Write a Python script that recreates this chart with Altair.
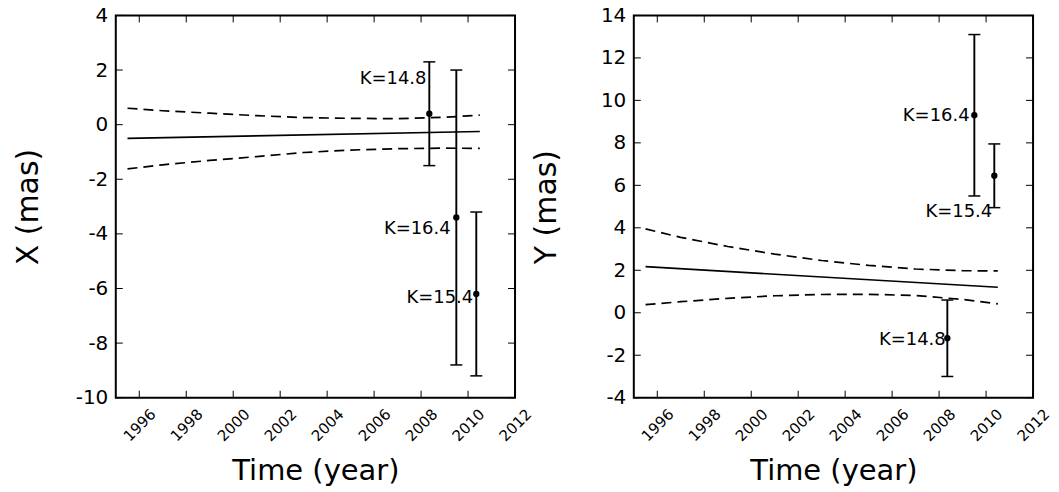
import altair as alt
import pandas as pd

# ---- data -------------------------------------------------------------
# epochs of the three K-band detections
epochs = [2008.35, 2009.5, 2010.35]
k_labels = ["K=14.8", "K=16.4", "K=15.4"]

# X offsets (mas) with 1-sigma errors
x_val = [0.4, -3.4, -6.2]
x_err = [1.9, 5.4, 3.0]
# Y offsets (mas) with 1-sigma errors
y_val = [-1.2, 9.3, 6.45]
y_err = [1.8, 3.8, 1.5]

# where each K label sits (right edge, data units), same order as k_labels
x_lab_year = [2008.23, 2009.26, 2010.22]
x_lab_val = [1.69, -3.82, -6.35]
y_lab_year = [2008.28, 2009.30, 2010.26]
y_lab_val = [-1.3, 9.25, 4.73]

# fitted linear motion and its confidence envelope
line_years = [1995.5, 2010.5]
x_fit = [-0.50, -0.25]
y_fit = [2.17, 1.20]

band_years = [1995.5, 1997, 1999, 2001, 2003, 2005, 2007, 2009, 2010.5]
x_upper = [0.60, 0.51, 0.42, 0.33, 0.26, 0.23, 0.22, 0.27, 0.35]
x_lower = [-1.62, -1.47, -1.31, -1.17, -1.02, -0.93, -0.88, -0.86, -0.87]
y_upper = [3.95, 3.55, 3.12, 2.76, 2.46, 2.23, 2.06, 1.98, 1.97]
y_lower = [0.38, 0.52, 0.68, 0.80, 0.86, 0.87, 0.81, 0.63, 0.42]

# axis ticks
year_ticks = [1996, 1998, 2000, 2002, 2004, 2006, 2008, 2010, 2012]
x_ticks = [-10, -8, -6, -4, -2, 0, 2, 4]
y_ticks = [-4, -2, 0, 2, 4, 6, 8, 10, 12, 14]

# ---- styling ----------------------------------------------------------
W, H = 400, 383
TICK = 7
FONT = "DejaVu Sans"
INK = "black"

x_axis = alt.Axis(
    values=year_ticks, title="Time (year)", labelExpr="toString(datum.value)",
    labelAngle=315, labelAlign="center", labelBaseline="middle",
    labelPadding=27, labelFontSize=15, labelFlush=False, labelOverlap=False,
    titleFontSize=29, titleFontWeight="normal", titleY=82,
    titleBaseline="alphabetic", ticks=False, tickSize=0, domain=False,
    grid=False, labelFont=FONT, titleFont=FONT, labelColor=INK, titleColor=INK,
)


def y_axis(title, ticks):
    return alt.Axis(
        values=ticks, title=title, labelExpr="toString(datum.value)",
        labelPadding=8, labelFontSize=20, labelFlush=False, labelOverlap=False,
        titleFontSize=30, titleFontWeight="normal", titleX=-78,
        titleBaseline="alphabetic", ticks=False, tickSize=0, domain=False,
        grid=False, labelFont=FONT, titleFont=FONT, labelColor=INK, titleColor=INK,
    )


def xenc(field):
    return alt.X(f"{field}:Q", scale=alt.Scale(domain=[1995, 2012], nice=False, zero=False),
                 axis=x_axis)


def panel(title, vals, errs, lab_year, lab_val, fit, upper, lower, domain, ticks):
    yax = y_axis(title, ticks)

    def yenc(field):
        return alt.Y(f"{field}:Q", scale=alt.Scale(domain=domain, nice=False, zero=False),
                     axis=yax)

    line_df = pd.DataFrame({"year": line_years, "fit": fit})
    band_df = pd.DataFrame({"year": band_years, "upper": upper, "lower": lower})
    pts_df = pd.DataFrame({
        "year": epochs,
        "val": vals,
        "lo": [v - e for v, e in zip(vals, errs)],
        "hi": [v + e for v, e in zip(vals, errs)],
        "lyear": lab_year,
        "lval": lab_val,
        "label": k_labels,
    })
    xt_df = pd.DataFrame({"t": year_ticks})
    yt_df = pd.DataFrame({"t": ticks})

    fit_line = alt.Chart(line_df).mark_line(color=INK, strokeWidth=1.7).encode(
        x=xenc("year"), y=yenc("fit"))
    band_up = alt.Chart(band_df).mark_line(color=INK, strokeWidth=1.7, strokeDash=[10, 6]).encode(
        x=xenc("year"), y=yenc("upper"))
    band_lo = alt.Chart(band_df).mark_line(color=INK, strokeWidth=1.7, strokeDash=[10, 6]).encode(
        x=xenc("year"), y=yenc("lower"))

    bars = alt.Chart(pts_df).mark_rule(color=INK, strokeWidth=1.9).encode(
        x=xenc("year"), y=yenc("lo"), y2="hi")
    cap_lo = alt.Chart(pts_df).mark_tick(color=INK, orient="horizontal", size=12,
                                         thickness=1.5, opacity=1).encode(
        x=xenc("year"), y=yenc("lo"))
    cap_hi = alt.Chart(pts_df).mark_tick(color=INK, orient="horizontal", size=12,
                                         thickness=1.5, opacity=1).encode(
        x=xenc("year"), y=yenc("hi"))
    dots = alt.Chart(pts_df).mark_circle(color=INK, size=40, opacity=1).encode(
        x=xenc("year"), y=yenc("val"))
    labels = alt.Chart(pts_df).mark_text(align="right", baseline="middle", fontSize=18,
                                         font=FONT, color=INK).encode(
        x=xenc("lyear"), y=yenc("lval"), text="label:N")

    # inward tick marks on all four sides of the frame
    t_bottom = alt.Chart(xt_df).mark_rule(color=INK, strokeWidth=1).encode(
        x=xenc("t"), y=alt.value(H), y2=alt.value(H - TICK))
    t_top = alt.Chart(xt_df).mark_rule(color=INK, strokeWidth=1).encode(
        x=xenc("t"), y=alt.value(0), y2=alt.value(TICK))
    t_left = alt.Chart(yt_df).mark_rule(color=INK, strokeWidth=1).encode(
        y=yenc("t"), x=alt.value(0), x2=alt.value(TICK))
    t_right = alt.Chart(yt_df).mark_rule(color=INK, strokeWidth=1).encode(
        y=yenc("t"), x=alt.value(W), x2=alt.value(W - TICK))

    return alt.layer(
        band_up, band_lo, fit_line, bars, cap_lo, cap_hi, dots, labels,
        t_bottom, t_top, t_left, t_right,
    ).properties(width=W, height=H)


left = panel("X (mas)", x_val, x_err, x_lab_year, x_lab_val,
             x_fit, x_upper, x_lower, [-10, 4], x_ticks)
right = panel("Y (mas)", y_val, y_err, y_lab_year, y_lab_val,
              y_fit, y_upper, y_lower, [-4, 14], y_ticks)

chart = (
    alt.hconcat(left, right, spacing=119, bounds="flush")
    .properties(padding={"left": 13, "top": 4, "right": 5, "bottom": 5})
    .configure(font=FONT)
    .configure_view(stroke=INK, strokeWidth=2)
)

chart.save("out.html", embed_options={"renderer": "svg", "actions": False})
